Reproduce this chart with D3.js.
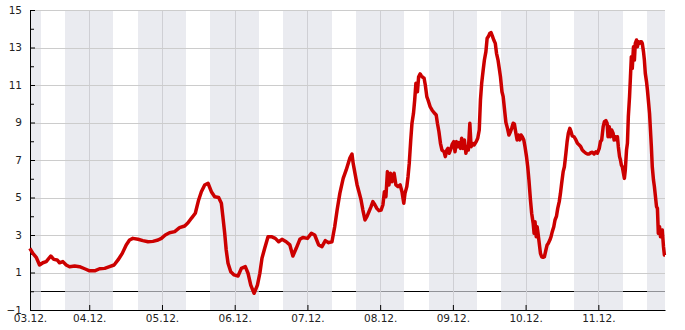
<!DOCTYPE html>
<html>
<head>
<meta charset="utf-8">
<script src="https://cdn.jsdelivr.net/npm/d3@7"></script>
<style>
  body { margin: 0; background: #fff; }
  text { font-family: "DejaVu Sans", sans-serif; }
</style>
</head>
<body>
<div id="chart"></div>
<script>
// hours since 03.12. 00:00 and temperature (°C)
var hours = [4.4, 5.4, 6.5, 7.6, 8.7, 9.8, 11.3, 12.3, 13.4, 14.2, 15.3, 16.4, 17.5, 19.2, 20.8, 22.5,
  24.1, 25.8, 27.4, 29.1, 30.7, 32.2, 33.5, 34.9, 36.2, 37.3, 38.4, 40.1, 41.7, 43.4, 45.0, 46.7,
  47.8, 49.1, 50.5, 52.2, 53.8, 55.5, 56.6, 57.7, 59.0, 60.1, 61.0, 62.1, 63.2, 64.3, 65.4, 66.7,
  67.6, 68.1, 68.7, 69.2, 69.8, 70.7, 71.8, 73.1, 74.2, 75.5, 76.4, 77.3, 78.4, 79.5, 80.3, 81.0,
  81.9, 83.0, 84.1, 85.4, 86.5, 87.6, 89.0, 90.2, 91.2, 92.3, 93.5, 94.5, 96.0, 97.3, 98.4, 99.7,
  100.8, 101.9, 103.0, 104.1, 105.0, 105.8, 106.7, 107.8, 108.8, 110.0, 110.7, 111.1, 111.7, 112.4,
  113.0, 113.7, 114.3, 115.0, 115.7, 116.3, 117.0, 117.6, 118.3, 118.9, 119.6, 120.3, 120.9, 121.4,
  121.9, 122.4, 122.9, 123.4, 123.9, 124.6, 125.2, 125.9, 126.6, 127.2, 127.8, 128.2, 128.8, 129.2,
  129.6, 130.1, 130.5, 131.0, 131.4, 131.8, 132.3, 132.7, 133.2, 133.6, 134.1, 134.5, 134.9, 135.4,
  135.8, 136.5, 137.1, 137.8, 138.5, 138.9, 139.4, 139.9, 140.4, 141.1, 141.5, 142.0, 142.4, 142.8,
  143.4, 143.8, 144.3, 144.7, 145.2, 145.6, 146.0, 146.5, 146.9, 147.4, 147.8, 148.3, 148.7, 149.1,
  149.6, 150.0, 150.5, 151.0, 151.7, 152.2, 152.7, 153.1, 153.5, 154.0, 154.4, 154.9, 155.3, 155.7,
  156.2, 156.6, 157.1, 157.5, 158.0, 158.4, 158.9, 159.3, 159.7, 160.2, 160.6, 161.1, 161.5, 162.0,
  162.5, 163.0, 163.4, 163.9, 164.3, 164.8, 165.2, 165.6, 166.1, 166.5, 166.9, 167.4, 167.8, 168.3,
  168.7, 169.1, 169.6, 170.0, 170.5, 170.8, 171.1, 171.5, 171.8, 172.1, 172.5, 172.9, 173.3, 173.8,
  174.2, 174.7, 175.1, 175.5, 176.0, 176.4, 176.8, 177.3, 177.7, 178.2, 178.6, 179.1, 179.5, 179.9,
  180.4, 180.8, 181.3, 181.7, 182.1, 182.6, 183.0, 183.4, 184.0, 184.6, 185.1, 185.7, 186.2, 186.7,
  187.3, 187.9, 188.4, 189.0, 189.5, 190.0, 190.6, 191.2, 191.7, 192.3, 192.7, 193.1, 193.6, 194.0,
  194.5, 194.9, 195.2, 195.6, 196.0, 196.4, 196.9, 197.2, 197.6, 198.0, 198.3, 198.6, 199.0, 199.3,
  199.6, 199.9, 200.3, 200.6, 200.9, 201.3, 201.6, 201.9, 202.3, 202.6, 202.9, 203.2, 203.6, 203.9,
  204.2, 204.6, 204.9, 205.2, 205.6, 205.9, 206.2, 206.5, 206.9, 207.2, 207.5, 207.9, 208.2, 208.5,
  208.9, 209.2, 209.5, 209.8, 210.2, 210.5, 210.8, 211.2, 211.5, 211.8, 212.2, 212.5, 212.8, 213.1,
  213.5, 213.8, 214.0];

var temps = [2.29, 2.02, 1.81, 1.40, 1.52, 1.58, 1.88, 1.70, 1.67, 1.52, 1.58, 1.40, 1.31, 1.35, 1.31, 1.20,
  1.09, 1.09, 1.20, 1.22, 1.31, 1.40, 1.67, 2.02, 2.47, 2.73, 2.82, 2.77, 2.70, 2.64, 2.66, 2.73,
  2.82, 3.00, 3.12, 3.18, 3.39, 3.48, 3.65, 3.89, 4.16, 4.87, 5.31, 5.67, 5.76, 5.31, 5.04, 5.00,
  4.69, 3.98, 3.09, 2.20, 1.49, 1.04, 0.87, 0.81, 1.22, 1.31, 0.96, 0.33, -0.11, 0.33, 0.96, 1.76,
  2.29, 2.91, 2.91, 2.82, 2.64, 2.77, 2.64, 2.47, 1.88, 2.29, 2.77, 2.87, 2.82, 3.09, 3.00, 2.47,
  2.38, 2.70, 2.59, 2.64, 3.44, 4.33, 5.22, 6.02, 6.47, 7.10, 7.32, 6.82, 6.29, 5.67,
  5.31, 4.87, 4.33, 3.80, 4.01, 4.24, 4.51, 4.78, 4.60, 4.42, 4.30, 4.33, 4.60, 5.31,
  5.04, 6.38, 5.67, 6.29, 5.84, 6.29, 5.67, 5.58, 5.67, 5.31, 4.69, 5.22, 5.58, 6.11,
  6.82, 8.07, 8.96, 9.49, 10.20, 11.09, 10.64, 11.44, 11.59, 11.48, 11.41, 11.36, 11.00, 10.38,
  10.20, 9.84, 9.67, 9.52, 9.40, 8.96, 8.51, 7.89, 7.53, 7.44, 7.18, 7.53, 7.62, 7.36,
  7.62, 7.85, 7.98, 7.44, 7.98, 7.71, 7.93, 7.62, 8.16, 7.62, 8.07, 7.36, 7.71, 7.53,
  8.96, 7.71, 7.89, 7.80, 7.98, 8.16, 8.60, 10.20, 11.09, 11.80, 12.33, 12.78, 13.49, 13.58,
  13.76, 13.79, 13.58, 13.40, 13.22, 12.69, 12.33, 11.89, 11.44, 10.64, 10.38, 9.60, 9.00, 8.70,
  8.33, 8.51, 8.69, 8.96, 8.92, 8.42, 8.07, 8.33, 8.07, 8.33, 8.24, 8.07, 7.71, 7.18,
  6.64, 5.93, 4.87, 4.16, 3.62, 3.09, 3.71, 2.91, 3.44, 3.09, 2.56, 2.02, 1.84, 1.81,
  1.84, 2.20, 2.47, 2.56, 2.73, 2.91, 3.18, 3.44, 3.80, 4.01, 4.42, 4.78, 5.22, 5.76,
  6.38, 6.64, 7.36, 7.98, 8.42, 8.69, 8.51, 8.28, 8.24, 8.07, 7.89, 7.80, 7.71, 7.53,
  7.44, 7.36, 7.32, 7.32, 7.39, 7.41, 7.32, 7.44, 7.36, 7.62, 7.98, 8.07, 8.78, 9.04,
  9.10, 8.96, 8.24, 8.78, 8.24, 8.60, 8.42, 8.07, 8.24, 8.07, 8.24, 7.71, 7.18, 7.00,
  6.73, 6.64, 6.29, 6.02, 6.47, 7.53, 7.89, 9.31, 10.38, 11.44, 12.51, 11.89, 13.04, 12.33,
  13.22, 13.40, 13.04, 13.31, 13.22, 13.31, 13.31, 13.22, 12.78, 12.33, 11.62, 11.18, 10.73, 10.20,
  9.49, 8.60, 7.71, 6.64, 5.93, 5.58, 5.13, 4.51, 4.42, 3.09, 3.44, 2.91, 3.09, 3.27,
  2.38, 1.93, 1.93];

var startHour = 4.45;   // 03.12. ~04:27
var endHour = 214;      // 11.12. 22:00
var dayStarts = [3, 4, 5, 6, 7, 8, 9, 10, 11];   // December days
var nightFrom = 16, nightTo = 8;                   // shaded hours
var yMajor = [-1, 1, 3, 5, 7, 9, 11, 13, 15];
var yMinor = [0, 2, 4, 6, 8, 10, 12, 14];

var svgWidth = 685;
var svgHeight = 330;
var margin = { top: 10, right: 20, bottom: 20, left: 30 };
var width = svgWidth - margin.left - margin.right;
var height = svgHeight - margin.top - margin.bottom;

var base = new Date(2023, 11, 3);
function hourToDate(h) { return new Date(base.getTime() + h * 3600e3); }

var data = hours.map(function(h, i) { return { date: hourToDate(h), temp: temps[i] }; });

var svg = d3.select("#chart").append("svg")
  .attr("width", svgWidth)
  .attr("height", svgHeight);

var chartGroup = svg.append("g")
  .attr("transform", `translate(${margin.left}, ${margin.top})`);

var xTimeScale = d3.scaleTime()
  .domain([hourToDate(startHour), hourToDate(endHour)])
  .range([0, width]);

var yLinearScale = d3.scaleLinear()
  .domain([-1, 15])
  .range([height, 0]);

// zero line (sits below the night bands)
chartGroup.append("line")
  .attr("x1", 0).attr("x2", width)
  .attr("y1", yLinearScale(0)).attr("y2", yLinearScale(0))
  .attr("stroke", "#000")
  .attr("stroke-width", 1)
  .attr("shape-rendering", "crispEdges");

// night bands 16:00 - 08:00
var nights = [{ from: startHour, to: dayStarts[0] * 24 - 72 + nightTo }];
dayStarts.forEach(function(d) {
  var from = (d - 3) * 24 + nightFrom;
  nights.push({ from: from, to: Math.min(from + 24 - nightFrom + nightTo, endHour) });
});

chartGroup.selectAll(".night")
  .data(nights)
  .enter()
  .append("rect")
  .classed("night", true)
  .attr("x", d => xTimeScale(hourToDate(d.from)))
  .attr("width", d => xTimeScale(hourToDate(d.to)) - xTimeScale(hourToDate(d.from)))
  .attr("y", 0)
  .attr("height", height)
  .attr("fill", "#dfe0e8")
  .attr("fill-opacity", 0.65)
  .attr("shape-rendering", "crispEdges");

// grid
var midnights = dayStarts.slice(1).map(d => hourToDate((d - 3) * 24));

chartGroup.selectAll(".vgrid")
  .data(midnights)
  .enter()
  .append("line")
  .attr("x1", d => Math.round(xTimeScale(d)) + 0.5)
  .attr("x2", d => Math.round(xTimeScale(d)) + 0.5)
  .attr("y1", 0).attr("y2", height)
  .attr("stroke", "#cfcfd4");

chartGroup.selectAll(".hgrid")
  .data(yMajor.filter(v => v > -1))
  .enter()
  .append("line")
  .attr("x1", 0).attr("x2", width)
  .attr("y1", d => Math.round(yLinearScale(d)) + 0.5)
  .attr("y2", d => Math.round(yLinearScale(d)) + 0.5)
  .attr("stroke", "#cccccc");

// axes
var leftAxis = d3.axisLeft(yLinearScale)
  .tickValues(yMajor)
  .tickSizeInner(-5)
  .tickSizeOuter(0)
  .tickPadding(8)
  .tickFormat(d3.format("d"));

var leftMinor = d3.axisLeft(yLinearScale)
  .tickValues(yMinor)
  .tickSizeInner(-4)
  .tickSizeOuter(0)
  .tickFormat("");

var bottomAxis = d3.axisBottom(xTimeScale)
  .tickValues([hourToDate(startHour)].concat(midnights))
  .tickSizeInner(-5)
  .tickSizeOuter(0)
  .tickPadding(5)
  .tickFormat(d3.timeFormat("%d.%m."));

var yAxis = chartGroup.append("g").call(leftAxis);
chartGroup.append("g").call(leftMinor).select(".domain").remove();

var xAxis = chartGroup.append("g")
  .attr("transform", `translate(0, ${height})`)
  .call(bottomAxis);

[yAxis, xAxis].forEach(function(ax) {
  ax.selectAll("text")
    .attr("font-size", "10.5px")
    .attr("font-family", "DejaVu Sans, sans-serif")
    .attr("fill", "#222");
});
chartGroup.selectAll(".domain, .tick line").attr("stroke", "#000");

// temperature line
var line = d3.line()
  .x(d => xTimeScale(d.date))
  .y(d => yLinearScale(d.temp));

chartGroup.append("path")
  .datum(data)
  .attr("d", line)
  .attr("fill", "none")
  .attr("stroke", "#cc0000")
  .attr("stroke-width", 3.5)
  .attr("stroke-linejoin", "round");
</script>
</body>
</html>
